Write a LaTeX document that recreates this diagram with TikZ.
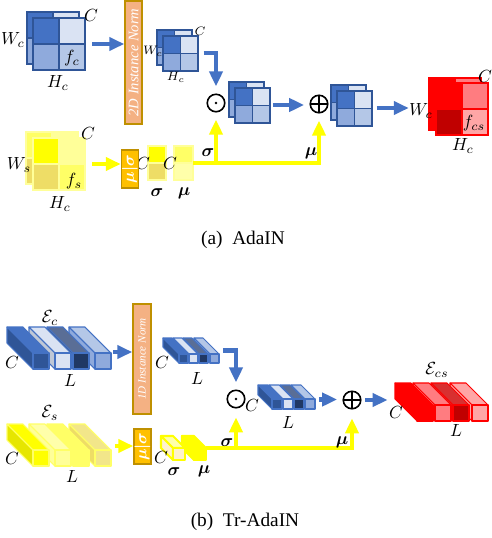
\documentclass[tikz,border=0pt]{standalone}
\usepackage{fontspec}
\setmainfont{Liberation Serif}
\usepackage{amsmath,bm}
\usetikzlibrary{positioning,fit,calc,arrows.meta}
\definecolor{bluD}{HTML}{4472C4}
\definecolor{bluL}{HTML}{DAE3F3}
\definecolor{bluM}{HTML}{8FAADC}
\definecolor{bluS}{HTML}{B4C7E7}
\definecolor{bluB}{HTML}{2F5597}
\definecolor{bluN}{HTML}{203864}
\definecolor{bluG}{HTML}{44546A}
\definecolor{bluT}{HTML}{5A6E96}
\definecolor{bluR}{HTML}{BFC8D6}
\definecolor{ylwA}{HTML}{FFFF00}
\definecolor{ylwB}{HTML}{FFFF99}
\definecolor{ylwC}{HTML}{FFFF66}
\definecolor{ylwK}{HTML}{EEDD66}
\definecolor{ylwP}{HTML}{FFFFAA}
\definecolor{ylwS}{HTML}{E6E600}
\definecolor{ylwH}{HTML}{F2E68A}
\definecolor{ylwQ}{HTML}{FFF2CC}
\definecolor{redA}{HTML}{FF0000}
\definecolor{redL}{HTML}{FF7C80}
\definecolor{redD}{HTML}{C00000}
\definecolor{redT}{HTML}{D83030}
\definecolor{redP}{HTML}{FFA6A6}
\definecolor{nrmF}{HTML}{F4B183}
\definecolor{nrmB}{HTML}{BF9000}
\definecolor{msF}{HTML}{FFC000}

% 2x2 feature square: x, y, size, TL, TR, BL, BR
\newcommand{\quadsq}[7]{%
  \fill[#4] (#1,#2) rectangle ++(#3/2,#3/2);
  \fill[#5] ({#1+#3/2},#2) rectangle ++(#3/2,#3/2);
  \fill[#6] (#1,{#2+#3/2}) rectangle ++(#3/2,#3/2);
  \fill[#7] ({#1+#3/2},{#2+#3/2}) rectangle ++(#3/2,#3/2);
  \draw[sqline] (#1,#2) rectangle ++(#3,#3)
    ({#1+#3/2},#2) -- ++(0,#3) (#1,{#2+#3/2}) -- ++(#3,0);}
% token bar: front x, front y, size, depth, front, top, side
\newcommand{\tokbar}[7]{%
  \filldraw[barline,fill=#6] (#1,#2) -- ++(#3,0) -- ++(-#4,-#4) -- ++(-#3,0) -- cycle;
  \filldraw[barline,fill=#7] (#1,#2) -- ++(0,#3) -- ++(-#4,-#4) -- ++(0,-#3) -- cycle;
  \filldraw[barline,fill=#5] (#1,#2) rectangle ++(#3,#3);}

\begin{document}
\begin{tikzpicture}[x=0.02cm,y=-0.02cm,>={Triangle[length=3mm,width=2.6mm]},
  sqline/.style={draw=bluB,line width=0.8pt},
  barline/.style={draw=bluD,line width=0.6pt,line join=round},
  barrow/.style={->,draw=bluD,line width=2.8pt},
  yarrow/.style={->,draw=ylwA,line width=2.8pt},
  nrmbox/.style={fill=nrmF,draw=nrmB,line width=0.8pt,inner sep=0pt},
  msbox/.style={fill=msF,draw=nrmB,line width=0.8pt,inner sep=0pt},
  vtxt/.style={rotate=90,text=white,inner sep=0pt},
  opc/.style={circle,draw,line width=0.9pt,minimum size=3.5mm,inner sep=0pt},
  odot/.style={opc,path picture={\fill (path picture bounding box.center) circle (0.8pt);}},
  oplus/.style={opc,path picture={\draw[line width=0.9pt] (path picture bounding box.north) -- (path picture bounding box.south)
      (path picture bounding box.west) -- (path picture bounding box.east);}},
  hold/.style={inner sep=0pt,draw=none},
  lbl/.style={font=\fontsize{10}{12}\selectfont,inner sep=0pt},
  slbl/.style={font=\fontsize{7}{8}\selectfont,inner sep=0pt},
  capt/.style={font=\fontsize{11}{13}\selectfont}]
\useasboundingbox (0,0) rectangle (491,538);

%%% (a) AdaIN
% content feature
\quadsq{27}{12}{52}{bluD}{bluL}{bluM}{bluS}
\quadsq{33}{18}{52}{bluD}{bluL}{bluM}{bluS}
\node[hold,fit={(33,18)(85,70)}] (fc) {};
\node[lbl] (fcC) at (91,15) {$C$};
\node[lbl] (fcW) at (13,40) {$W_c$};
\node[lbl] (fcF) at (72,58) {$f_c$};
\node[lbl] (fcH) at (58,83) {$H_c$};

\node[nrmbox,minimum width=17*0.02cm,minimum height=123*0.02cm] (nrmA) at (133.5,62.5) {};
\node[vtxt,font=\itshape\fontsize{8.3}{9}\selectfont] (nrmAt) at (nrmA) {2D Instance Norm};

\quadsq{157}{30}{35}{bluD}{bluL}{bluM}{bluS}
\quadsq{163}{36}{35}{bluD}{bluL}{bluM}{bluS}
\node[hold,fit={(163,36)(198,70)}] (fcn) {};
\node[slbl] (fcnC) at (200,31) {$C$};
\node[slbl] (fcnW) at (153,51) {$W_c$};
\node[slbl] (fcnH) at (176,77) {$H_c$};

\node[odot] (odA) at (216,103) {};
\quadsq{229}{82}{35}{bluD}{bluL}{bluM}{bluS}
\quadsq{235}{88}{35}{bluD}{bluL}{bluM}{bluS}
\node[hold,fit={(235,88)(269,122)}] (fcm) {};

\node[oplus] (opA) at (319,104) {};
\quadsq{331}{85}{35}{bluD}{bluL}{bluM}{bluS}
\quadsq{337}{91}{35}{bluD}{bluL}{bluM}{bluS}
\node[hold,fit={(337,91)(371,125)}] (fca) {};

% stylized output
\begin{scope}[sqline/.style={draw=redA,line width=0.8pt}]
\quadsq{429}{78}{52}{redA}{redL}{redA}{redA}
\quadsq{436}{83}{52}{redA}{redL}{redD}{redP}
\end{scope}
\node[hold,fit={(436,83)(488,135)}] (fcs) {};
\node[lbl] (fcsC) at (485,76) {$C$};
\node[lbl] (wcs) at (421,111) {$W_c$};
\node[lbl] (fcsF) at (474,123) {$f_{cs}$};
\node[lbl] (fcsH) at (463,146) {$H_c$};

% style feature
\begin{scope}[sqline/.style={draw=ylwB,line width=0.8pt}]
\quadsq{26}{132}{52}{ylwC}{ylwB}{ylwK}{ylwC}
\quadsq{33}{138}{52}{ylwA}{ylwB}{ylwK}{ylwC}
\filldraw[sqline,fill=ylwA] (148,146) rectangle (166,163);
\filldraw[sqline,fill=ylwK] (148,163) rectangle (166,180);
\filldraw[sqline,fill=ylwC] (174,146) rectangle (193,163);
\filldraw[sqline,fill=ylwP] (174,163) rectangle (193,180);
\end{scope}
\node[hold,fit={(33,138)(85,190)}] (fs) {};
\node[hold,fit={(148,146)(166,180)}] (sgA) {};
\node[hold,fit={(174,146)(193,180)}] (muA) {};
\node[lbl] (fsC) at (88,133) {$C$};
\node[lbl] (fsW) at (19,165) {$W_s$};
\node[lbl] (fsF) at (74,181) {$f_s$};
\node[lbl] (fsH) at (60,204) {$H_c$};
\node[lbl] (sgAC) at (143,163) {$C$};
\node[lbl] (sgAl) at (157,193) {$\bm{\sigma}$};
\node[lbl] (muAC) at (170,163) {$C$};
\node[lbl] (muAl) at (184,193) {$\bm{\mu}$};

\node[msbox,minimum width=17*0.02cm,minimum height=38*0.02cm] (msA) at (130,169) {};
\node[vtxt,font=\fontsize{9.5}{10}\selectfont] (msAt) at (msA) {$\bm{\mu|\sigma}$};

\draw[barrow,shorten <=4pt] (fc.east) -- (fc.east -| nrmA.west);
\draw[barrow,shorten <=3pt,shorten >=4pt] (fcn.east) -| (odA.north);
\draw[barrow,shorten <=2pt,shorten >=3pt] (fcm.east) -- (fcm.east -| opA.west);
\draw[barrow,shorten <=3pt] (fca.east) -- (fca.east -| wcs.west);
\draw[yarrow,shorten <=4pt] (fs.east) -- (fs.east -| msA.west);
\draw[yarrow,shorten >=4pt] (muA.east) -| (opA.south);
\draw[yarrow,shorten >=4pt] (odA.south |- muA.east) -- (odA.south);
\node[lbl] (sgAt) at (208,153) {$\bm{\sigma}$};
\node[lbl] (muAt) at (311,153) {$\bm{\mu}$};

\node[capt] (capA) at (243,240) {(a)~~AdaIN};

%%% (b) Tr-AdaIN
% content tokens (back to front)
\tokbar{95}{353}{16}{26}{bluM}{bluS}{bluM}
\tokbar{73}{353}{16}{26}{bluN}{bluT}{bluG}
\tokbar{55}{353}{16}{26}{bluL}{bluL}{bluR}
\tokbar{33}{353}{16}{26}{bluB}{bluD}{bluB}
\node[hold,fit={(7,335)(111,369)}] (ec) {};
\node[lbl] (ecE) at (50,318) {$\mathcal{E}_c$};
\node[lbl] (ecC) at (12,362) {$C$};
\node[lbl] (ecL) at (70,380) {$L$};

\node[nrmbox,minimum width=18*0.02cm,minimum height=110*0.02cm] (nrmB) at (142,359) {};
\node[vtxt,font=\itshape\fontsize{6.3}{7}\selectfont] (nrmBt) at (nrmB) {1D Instance Norm};

\tokbar{210}{354}{9}{16}{bluM}{bluS}{bluM}
\tokbar{199}{354}{9}{16}{bluN}{bluT}{bluG}
\tokbar{189}{354}{9}{16}{bluL}{bluL}{bluR}
\tokbar{179}{354}{9}{16}{bluB}{bluD}{bluB}
\node[hold,fit={(163,338)(219,363)}] (ecn) {};
\node[lbl] (ecnC) at (162,362) {$C$};
\node[lbl] (ecnL) at (197,378) {$L$};

\node[odot] (odB) at (236,399) {};
\node[lbl] (ecmC) at (252,405) {$C$};
\tokbar{305}{399}{10}{14}{bluM}{bluS}{bluM}
\tokbar{294}{399}{10}{14}{bluN}{bluT}{bluG}
\tokbar{283}{399}{10}{14}{bluL}{bluL}{bluR}
\tokbar{272}{399}{10}{14}{bluB}{bluD}{bluB}
\node[hold,fit={(258,390)(315,409)}] (ecm) {};
\node[lbl] (ecmL) at (288,422) {$L$};

\node[oplus] (opB) at (352,400) {};

% stylized tokens
\begin{scope}[barline/.style={draw=redA,line width=0.6pt,line join=round}]
\tokbar{472}{405}{16}{22}{redP}{redP}{redP}
\tokbar{453}{405}{16}{22}{redD}{redT}{redT}
\tokbar{435}{405}{16}{22}{redL}{redL}{redL}
\tokbar{417}{405}{16}{22}{redA}{redA}{redA}
\end{scope}
\node[hold,fit={(395,379)(488,421)}] (ecs) {};
\node[lbl] (ecsE) at (437,370) {$\mathcal{E}_{cs}$};
\node[lbl] (ecsC) at (396,412) {$C$};
\node[lbl] (ecsL) at (456,430) {$L$};

% style tokens
\begin{scope}[barline/.style={draw=ylwC,line width=0.6pt,line join=round}]
\tokbar{95}{450}{16}{26}{ylwH}{ylwH}{ylwK}
\tokbar{73}{450}{16}{26}{ylwC}{ylwC}{ylwC}
\tokbar{55}{450}{16}{26}{ylwB}{ylwP}{ylwB}
\tokbar{33}{450}{16}{26}{ylwA}{ylwA}{ylwS}
\end{scope}
\begin{scope}[barline/.style={draw=ylwA,line width=1.2pt,line join=round}]
\tokbar{194}{448}{12}{12}{ylwA}{ylwA}{ylwA}
\tokbar{173}{448}{12}{12}{ylwQ}{ylwP}{ylwQ}
\end{scope}
\node[hold,fit={(7,427)(111,465)}] (es) {};
\node[hold,fit={(161,436)(185,460)}] (sgB) {};
\node[hold,fit={(182,436)(206,460)}] (muB) {};
\node[lbl] (esE) at (50,413) {$\mathcal{E}_s$};
\node[lbl] (esC) at (12,458) {$C$};
\node[lbl] (esL) at (72,476) {$L$};
\node[lbl] (sgBC) at (161,457) {$C$};
\node[lbl] (sgBl) at (174,472) {$\bm{\sigma}$};
\node[lbl] (muBl) at (204,471) {$\bm{\mu}$};

\node[msbox,minimum width=17*0.02cm,minimum height=35*0.02cm] (msB) at (142.5,446.5) {};
\node[vtxt,font=\fontsize{9.5}{10}\selectfont] (msBt) at (msB) {$\bm{\mu|\sigma}$};

\draw[barrow,shorten <=1pt] (ec.east) -- (ec.east -| nrmB.west);
\draw[barrow,shorten <=2pt,shorten >=4pt] (ecn.east) -| (odB.north);
\draw[barrow,shorten <=2pt,shorten >=3pt] (ecm.east) -- (ecm.east -| opB.west);
\draw[barrow,shorten <=2pt,shorten >=4pt] (opB.east) -- (opB.east -| ecs.west);
\draw[yarrow,shorten <=2pt] (es.east) -- (es.east -| msB.west);
\draw[yarrow,shorten >=5pt] (muB.east) -| (opB.south);
\draw[yarrow,shorten >=5pt] (odB.south |- muB.east) -- (odB.south);
\node[lbl] (sgBt) at (227,443) {$\bm{\sigma}$};
\node[lbl] (muBt) at (342,442) {$\bm{\mu}$};

\node[capt] (capB) at (245,522) {(b)~~Tr-AdaIN};

\end{tikzpicture}
\end{document}
